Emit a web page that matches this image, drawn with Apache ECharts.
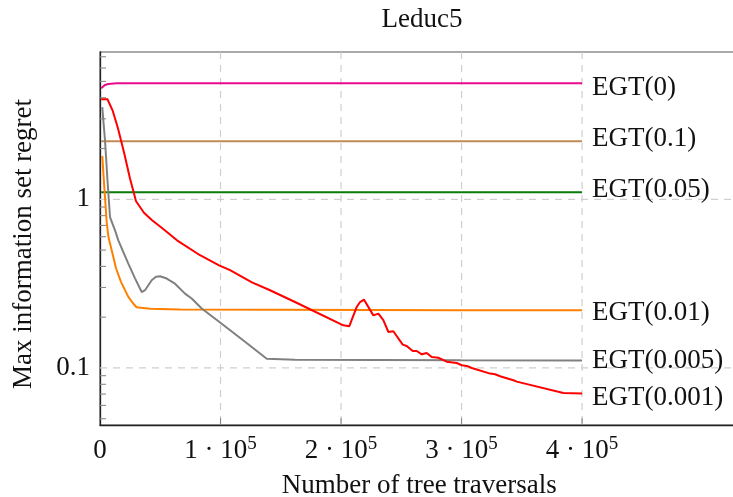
<!DOCTYPE html>
<html>
<head>
<meta charset="utf-8">
<script src="https://cdn.jsdelivr.net/npm/echarts@6/dist/echarts.min.js"></script>
<style>
  html, body { margin: 0; padding: 0; background: #ffffff; }
  #chart { width: 733px; height: 497px; }
</style>
</head>
<body>
<div id="chart"></div>
<script>
// Max information set regret vs. number of tree traversals, Leduc5
const chartTitle = 'Leduc5';
const xAxisTitle = 'Number of tree traversals';
const yAxisTitle = 'Max information set regret';

const seriesNames = ['EGT(0)', 'EGT(0.1)', 'EGT(0.05)', 'EGT(0.01)', 'EGT(0.005)', 'EGT(0.001)'];

// EGT(0)
const egt0X = [1000, 2200, 4000, 6900, 13900, 50000, 100000, 200000, 300000, 400000];
const egt0Y = [4.55, 4.62, 4.76, 4.83, 4.87, 4.87, 4.87, 4.87, 4.87, 4.87];

// EGT(0.1)
const egt01X = [1000, 100000, 200000, 300000, 400000];
const egt01Y = [2.21, 2.21, 2.21, 2.21, 2.21];

// EGT(0.05)
const egt005X = [1000, 100000, 200000, 300000, 400000];
const egt005Y = [1.10, 1.10, 1.10, 1.10, 1.10];

// EGT(0.01)
const egt001X = [1900, 2900, 4150, 5560, 7050, 9700, 13300, 17400, 23500, 27400, 30300, 41500, 66400, 150000, 300000, 400000];
const egt001Y = [1.81, 1.39, 1.03, 0.731, 0.595, 0.499, 0.390, 0.324, 0.264, 0.242, 0.229, 0.2244, 0.222, 0.221, 0.220, 0.220];

// EGT(0.005)
const egt0005X = [1900, 2900, 4150, 6390, 8300, 12450, 15190, 23490, 29050, 34610, 37340, 42900, 46470, 49790, 55350, 62240, 70540, 76100, 84400, 101000, 120330, 138340, 161830, 300000, 400000];
const egt0005Y = [3.52, 2.86, 2.24, 1.24, 0.785, 0.655, 0.571, 0.416, 0.340, 0.282, 0.289, 0.331, 0.347, 0.350, 0.339, 0.316, 0.276, 0.258, 0.225, 0.183, 0.143, 0.1135, 0.112, 0.111, 0.1106];

// EGT(0.001)
const egt0001X = [1000, 6200, 10400, 14900, 19900, 24900, 29900, 36500, 43200, 51200, 63900, 83000, 98800, 107900, 126100, 141100, 161800, 201900, 206900, 213000, 215800, 219100, 226800, 231000, 235100, 239300, 243400, 251200, 254500, 259500, 262800, 267000, 271100, 275300, 280700, 287700, 296000, 300200, 304300, 308500, 323700, 327800, 332000, 343000, 345800, 384500, 400000];
const egt0001Y = [3.92, 3.92, 3.37, 2.64, 1.90, 1.33, 0.973, 0.832, 0.751, 0.678, 0.571, 0.466, 0.406, 0.380, 0.322, 0.289, 0.246, 0.179, 0.177, 0.230, 0.246, 0.254, 0.205, 0.210, 0.192, 0.1634, 0.165, 0.1376, 0.135, 0.126, 0.126, 0.1205, 0.1227, 0.116, 0.115, 0.109, 0.107, 0.1038, 0.1028, 0.0999, 0.0926, 0.0918, 0.0893, 0.0845, 0.083, 0.0711, 0.0705];

// Axis ticks
const xTickValues = [0, 100000, 200000, 300000, 400000];
const yMajorTicks = [0.1, 1];
const yMinorTicks = [0.05, 0.06, 0.07, 0.08, 0.09, 0.2, 0.3, 0.4, 0.5, 0.6, 0.7, 0.8, 0.9, 2, 3, 4, 5, 6, 7];

const FONT = "'Liberation Serif', 'Times New Roman', serif";
const TEXT = '#111111';

const seriesX = [egt0X, egt01X, egt005X, egt001X, egt0005X, egt0001X];
const seriesY = [egt0Y, egt01Y, egt005Y, egt001Y, egt0005Y, egt0001Y];
const seriesColors = ['#ec0a8c', '#c28a55', '#0a7a0a', '#ff8000', '#808080', '#ff0000'];
const labelShift = [5, -2, -2, 3, 0, 4];

function zip(xs, ys) { return xs.map((x, i) => [x, ys[i]]); }

// Gridlines and tick marks: [x, y, kind]
// kind 0: vertical gridline, 1: horizontal gridline, 2: y minor tick, 3: x tick
const guideData = [];
xTickValues.filter(v => v > 0).forEach(v => { guideData.push([v, 1, 0]); guideData.push([v, 1, 3]); });
yMajorTicks.forEach(v => guideData.push([0, v, 1]));
yMinorTicks.forEach(v => guideData.push([0, v, 2]));

const lineSeries = seriesNames.map((name, i) => ({
  name: name,
  type: 'line',
  data: zip(seriesX[i], seriesY[i]),
  showSymbol: false,
  symbol: 'none',
  animation: false,
  z: 3 + i,
  lineStyle: { color: seriesColors[i], width: 2 },
  itemStyle: { color: seriesColors[i] },
  endLabel: {
    show: true,
    formatter: name,
    distance: 10,
    offset: [0, labelShift[i]],
    fontFamily: FONT,
    fontSize: 27,
    color: TEXT
  }
}));

const guideSeries = {
  type: 'custom',
  coordinateSystem: 'cartesian2d',
  dimensions: ['x', 'y', 'kind'],
  encode: { x: 0, y: 1 },
  data: guideData,
  silent: true,
  animation: false,
  z: 1,
  renderItem: function (params, api) {
    const cs = params.coordSys;
    const kind = api.value(2);
    if (kind === 0) {
      const x = api.coord([api.value(0), 1])[0];
      return { type: 'line', shape: { x1: x, y1: cs.y, x2: x, y2: cs.y + cs.height },
        style: { stroke: '#cfcfcf', lineWidth: 1.2, lineDash: [7, 6] } };
    }
    if (kind === 1) {
      const y = api.coord([0, api.value(1)])[1];
      return { type: 'line', shape: { x1: cs.x, y1: y, x2: cs.x + cs.width, y2: y },
        style: { stroke: '#cfcfcf', lineWidth: 1.2, lineDash: [7, 6] } };
    }
    if (kind === 2) {
      const y = api.coord([0, api.value(1)])[1];
      return { type: 'line', shape: { x1: cs.x, y1: y, x2: cs.x + 6, y2: y },
        style: { stroke: '#8a8a8a', lineWidth: 1.1 } };
    }
    const x = api.coord([api.value(0), 1])[0];
    const yb = cs.y + cs.height;
    return { type: 'line', shape: { x1: x, y1: yb, x2: x, y2: yb - 7 },
      style: { stroke: '#8a8a8a', lineWidth: 1.1 } };
  }
};

const chart = echarts.init(document.getElementById('chart'), null, { renderer: 'canvas' });
chart.setOption({
  backgroundColor: '#ffffff',
  animation: false,
  title: {
    text: chartTitle,
    left: 417,
    top: 1,
    textAlign: 'center',
    textStyle: { fontFamily: FONT, fontSize: 27, fontWeight: 'normal', color: TEXT }
  },
  grid: {
    left: 100, top: 52, width: 638.5, height: 373,
    outerBoundsMode: 'none',
    containLabel: false,
    show: true, borderColor: '#555555', borderWidth: 1.2, backgroundColor: 'transparent'
  },
  xAxis: {
    type: 'value',
    min: 0,
    max: 529800,
    interval: 100000,
    axisLine: { show: true, onZero: false, lineStyle: { color: '#222222', width: 1.3 } },
    axisTick: { show: false },
    splitLine: { show: false },
    axisLabel: {
      margin: 10,
      color: TEXT,
      fontFamily: FONT,
      fontSize: 27,
      formatter: function (v) {
        if (v === 0) return '{n|0}';
        if (v > 400000 || xTickValues.indexOf(v) < 0) return '';
        return '{n|' + (v / 100000) + ' · 10}{s|5}';
      },
      rich: {
        n: { fontFamily: FONT, fontSize: 27, color: TEXT, lineHeight: 29, verticalAlign: 'bottom' },
        s: { fontFamily: FONT, fontSize: 19, color: TEXT, lineHeight: 29, verticalAlign: 'top' }
      }
    },
    name: xAxisTitle,
    nameLocation: 'middle',
    nameGap: 47,
    nameTextStyle: { fontFamily: FONT, fontSize: 27, color: TEXT }
  },
  yAxis: {
    type: 'log',
    logBase: 10,
    min: 0.0459,
    max: 7.47,
    axisLine: { show: true, lineStyle: { color: '#222222', width: 1.3 } },
    axisTick: { show: false },
    splitLine: { show: false },
    minorTick: { show: false },
    axisLabel: {
      margin: 10,
      color: TEXT,
      fontFamily: FONT,
      fontSize: 27,
      showMinLabel: false,
      showMaxLabel: false,
      formatter: function (v) {
        const r = +(+v).toPrecision(6);
        if (r === 0.1) return '0.1';
        if (r === 1) return '1';
        return '';
      }
    },
    name: yAxisTitle,
    nameLocation: 'middle',
    nameRotate: 90,
    nameGap: 63,
    nameTextStyle: { fontFamily: FONT, fontSize: 27, color: TEXT, padding: [0, 11, 0, 0] }
  },
  series: [guideSeries].concat(lineSeries)
});
</script>
</body>
</html>
